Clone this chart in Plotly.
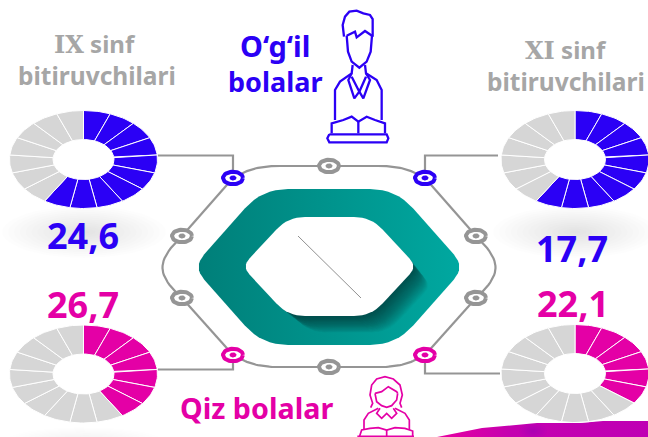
import math
import plotly.graph_objects as go

W, H = 648, 437
SEGMENTS = 17
groups = ["IX sinf o'g'il", "XI sinf o'g'il", "IX sinf qiz", "XI sinf qiz"]
filled_segments = [10, 10, 7, 6]
value_labels = ["24,6", "17,7", "26,7", "22,1"]
BLUE, PINK, GREY, LIGHT = "#2b00f5", "#e400a6", "#959595", "#d6d6d6"
colors = [BLUE, BLUE, PINK, PINK]
centers = [(83.5, 159.5), (575, 159.5), (83.5, 374), (575, 373.5)]

fig = go.Figure()


def seg(cx, cy, a0, a1, rx=74, ry=49, irx=30.5, iry=20):
    n = 10
    out = [(cx + rx * math.sin(a0 + (a1 - a0) * i / n), cy - ry * math.cos(a0 + (a1 - a0) * i / n)) for i in range(n + 1)]
    inn = [(cx + irx * math.sin(a1 - (a1 - a0) * i / n), cy - iry * math.cos(a1 - (a1 - a0) * i / n)) for i in range(n + 1)]
    pts = out + inn + out[:1]
    return [p[0] for p in pts], [p[1] for p in pts]


def poly(xs, ys, fill=None, line=None, width=0, grad=None):
    kw = dict(x=xs, y=ys, mode="lines", showlegend=False, hoverinfo="skip")
    if fill or grad:
        kw["fill"] = "toself"
    if fill:
        kw["fillcolor"] = fill
    if grad:
        kw["fillgradient"] = grad
    kw["line"] = dict(color=line or "rgba(0,0,0,0)", width=width)
    fig.add_trace(go.Scatter(**kw))


def ell(cx, cy, rx, ry):
    return [cx + rx * math.cos(i * math.pi / 24) for i in range(49)], [cy + ry * math.sin(i * math.pi / 24) for i in range(49)]


def soft(cx, cy, rx, ry, alpha=0.008, steps=14, rgb="0,0,0"):
    for i in range(steps):
        t = 1 - i / steps
        xs, ys = ell(cx, cy, rx * t, ry * t)
        poly(xs, ys, fill=f"rgba({rgb},{alpha})")


def rounded(verts, ds, scale=1, ox=0, oy=0, n=8):
    cx = sum(v[0] for v in verts) / len(verts)
    cy = sum(v[1] for v in verts) / len(verts)
    v = [(cx + (a - cx) * scale + ox, cy + (b - cy) * scale + oy) for a, b in verts]
    xs, ys = [], []
    m = len(v)
    for i in range(m):
        p, c, q = v[i - 1], v[i], v[(i + 1) % m]
        lp = math.hypot(p[0] - c[0], p[1] - c[1])
        lq = math.hypot(q[0] - c[0], q[1] - c[1])
        d = ds[i]
        a = (c[0] + (p[0] - c[0]) * d / lp, c[1] + (p[1] - c[1]) * d / lp)
        b = (c[0] + (q[0] - c[0]) * d / lq, c[1] + (q[1] - c[1]) * d / lq)
        for j in range(n + 1):
            t = j / n
            xs.append((1-t)**2*a[0] + 2*t*(1-t)*c[0] + t*t*b[0])
            ys.append((1-t)**2*a[1] + 2*t*(1-t)*c[1] + t*t*b[1])
    xs.append(xs[0]); ys.append(ys[0])
    return xs, ys


# soft shadows
soft(84, 232, 82, 26, alpha=0.008)
soft(575, 232, 82, 26, alpha=0.006)
soft(84, 441, 80, 14, alpha=0.004)

# swoosh
poly([437, 482, 537, 580, 603, 648, 648, 437], [437, 428, 423, 423, 421, 421, 437, 437],
     grad=dict(type="horizontal", colorscale=[[0, "#e800a0"], [0.35, "#c400b0"], [1, "#bf00b4"]]))
soft(533, 431, 14, 8, alpha=0.05, steps=6, rgb="110,0,200")

# hexagon
OUT = [(193, 267), (262, 189), (396, 189), (465, 267), (396, 345), (262, 345)]
OUT_D = [17, 26, 26, 17, 26, 26]
xs, ys = rounded(OUT, OUT_D)
poly(xs, ys, grad=dict(type="horizontal", colorscale=[[0, "#007f79"], [1, "#00a8a0"]]))
INN = [(242, 266.5), (288, 217), (371, 217), (417, 266.5), (371, 316), (288, 316)]
INN_D = [11, 17, 17, 11, 17, 17]
STEPS = 30
for i in range(STEPS):
    k = 1 - i / STEPS
    xs, ys = rounded(INN, INN_D, scale=1 - 0.05 * k, ox=19 * k, oy=19 * k)
    poly(xs, ys, fill="rgba(0,55,52,0.036)")
xs, ys = rounded(INN, INN_D)
poly(xs, ys, fill="#ffffff")
poly([298, 361], [236, 298], line="#909090", width=1)

# wiring
G = dict(line=GREY, width=2.2)
for xs, ys in [([158, 233, 233], [155.5, 155.5, 178]), ([425, 425, 498], [178, 155.5, 155.5]),
               ([158, 233, 233], [369.5, 369.5, 355]), ([425, 425, 500], [355, 373.5, 373.5]),
               ([233, 182], [178, 236]), ([425, 476], [178, 236]),
               ([233, 182], [355, 298]), ([425, 476], [355, 298])]:
    poly(xs, ys, **G)


def curve(a, b, c, d):
    xs, ys = [], []
    for i in range(25):
        t = i / 24
        xs.append((1-t)**3*a[0] + 3*t*(1-t)**2*b[0] + 3*t*t*(1-t)*c[0] + t**3*d[0])
        ys.append((1-t)**3*a[1] + 3*t*(1-t)**2*b[1] + 3*t*t*(1-t)*c[1] + t**3*d[1])
    return xs, ys


for a, b, c, d in [((233, 178), (250, 168), (262, 166), (280, 166)),
                   ((425, 178), (408, 168), (396, 166), (378, 166)),
                   ((233, 355), (250, 365), (262, 367), (280, 367)),
                   ((425, 355), (408, 365), (396, 367), (378, 367)),
                   ((182, 236), (155, 262), (157, 275), (182, 298)),
                   ((476, 236), (503, 262), (501, 275), (476, 298))]:
    xs, ys = curve(a, b, c, d)
    poly(xs, ys, **G)
poly([280, 378], [166, 166], **G)
poly([280, 378], [367, 367], **G)


def ring(cx, cy, color):
    xs, ys = ell(cx, cy, 10, 6.2)
    poly(xs, ys, fill="#ffffff", line=color, width=4)
    xs, ys = ell(cx, cy, 3.5, 2.6)
    poly(xs, ys, fill=color)


for cx, cy in [(329, 166), (329, 367), (182, 236), (182, 298), (476, 236), (476, 298)]:
    ring(cx, cy, GREY)
for cx, cy in [(233, 178), (425, 178)]:
    ring(cx, cy, BLUE)
for cx, cy in [(233, 355), (425, 355)]:
    ring(cx, cy, PINK)

# doughnuts
for (cx, cy), n, col in zip(centers, filled_segments, colors):
    for i in range(SEGMENTS):
        a0 = 2 * math.pi * i / SEGMENTS
        a1 = 2 * math.pi * (i + 1) / SEGMENTS
        xs, ys = seg(cx, cy, a0, a1)
        poly(xs, ys, fill=col if i < n else LIGHT, line="#ffffff", width=1)

# boy icon
boy = [
    [(72,95),(68,60),(75,35),(88,20),(110,17),(130,25),(150,30),(158,42),(158,95)],
    [(80,92),(105,80),(110,97),(135,78),(156,92)],
    [(80,92),(84,140),(95,170),(118,188),(140,170),(152,140),(156,92)],
    [(98,180),(95,205),(60,230),(45,255),(45,345)],
    [(135,180),(138,205),(170,225),(185,255),(185,345)],
    [(95,205),(85,225),(103,280),(118,260),(130,280),(150,225),(138,205)],
    [(95,215),(118,260),(138,215)],
    [(35,385),(35,355),(70,345),(95,335),(115,350),(140,335),(165,345),(195,355),(195,385)],
    [(115,350),(115,385)],
    [(28,388),(200,388),(205,400),(200,412),(28,412),(22,400),(28,388)],
]
for path in boy:
    poly([320 + p[0] / 3 for p in path], [5 + p[1] / 3 for p in path], line=BLUE, width=2.3)

# girl icon
girl = [
    [(62,98),(68,85),(60,60),(65,30),(80,12),(105,5),(130,12),(150,30),(157,60),(150,85),(155,98)],
    [(75,55),(95,50),(115,35),(140,50),(143,55)],
    [(75,55),(80,80),(95,92),(110,97),(125,92),(140,75),(143,55)],
    [(85,100),(55,115),(42,135),(42,165)],
    [(135,100),(165,115),(178,135),(178,165)],
    [(90,100),(80,115),(95,130),(110,115),(125,130),(140,115),(130,100)],
    [(28,186),(35,165),(60,160),(85,158),(110,165),(135,158),(165,160),(188,168),(188,186)],
    [(110,165),(110,186)],
    [(22,184),(192,184)],
]
for path in girl:
    poly([350 + p[0] / 3 for p in path], [375 + p[1] / 3 for p in path], line=PINK, width=1.7)

fam = "Noto Sans"
GT = "#a6a6a6"
texts = [
    (95, 43, '<span style="font-family:DejaVu Serif">IX</span> sinf', 24, GT),
    (97, 75, "bitiruvchilari", 24.5, GT),
    (566, 49, '<span style="font-family:DejaVu Serif">XI</span> sinf', 24, GT),
    (566, 81, "bitiruvchilari", 24.5, GT),
    (275, 63, '<span style="font-size:29px">O‘g‘il</span><br>bolalar', 27, BLUE),
    (256, 407, "Qiz bolalar", 28.7, PINK),
    (83, 235, value_labels[0], 36, BLUE),
    (572, 248, value_labels[1], 36, BLUE),
    (83, 304, value_labels[2], 36, PINK),
    (573, 303, value_labels[3], 36, PINK),
]
for x, y, t, s, c in texts:
    fig.add_annotation(x=x, y=y, text=f"<b>{t}</b>", showarrow=False, xref="x", yref="y",
                       font=dict(size=s, color=c, family=fam), xanchor="center", yanchor="middle")

fig.update_layout(width=W, height=H, margin=dict(l=0, r=0, t=0, b=0), paper_bgcolor="white", plot_bgcolor="white",
                  showlegend=False,
                  xaxis=dict(range=[0, W], visible=False, fixedrange=True),
                  yaxis=dict(range=[H, 0], visible=False, fixedrange=True))
fig.write_html("out.html", config=dict(displayModeBar=False),
               post_script="document.body.style.margin='0';document.body.style.overflow='hidden';")
